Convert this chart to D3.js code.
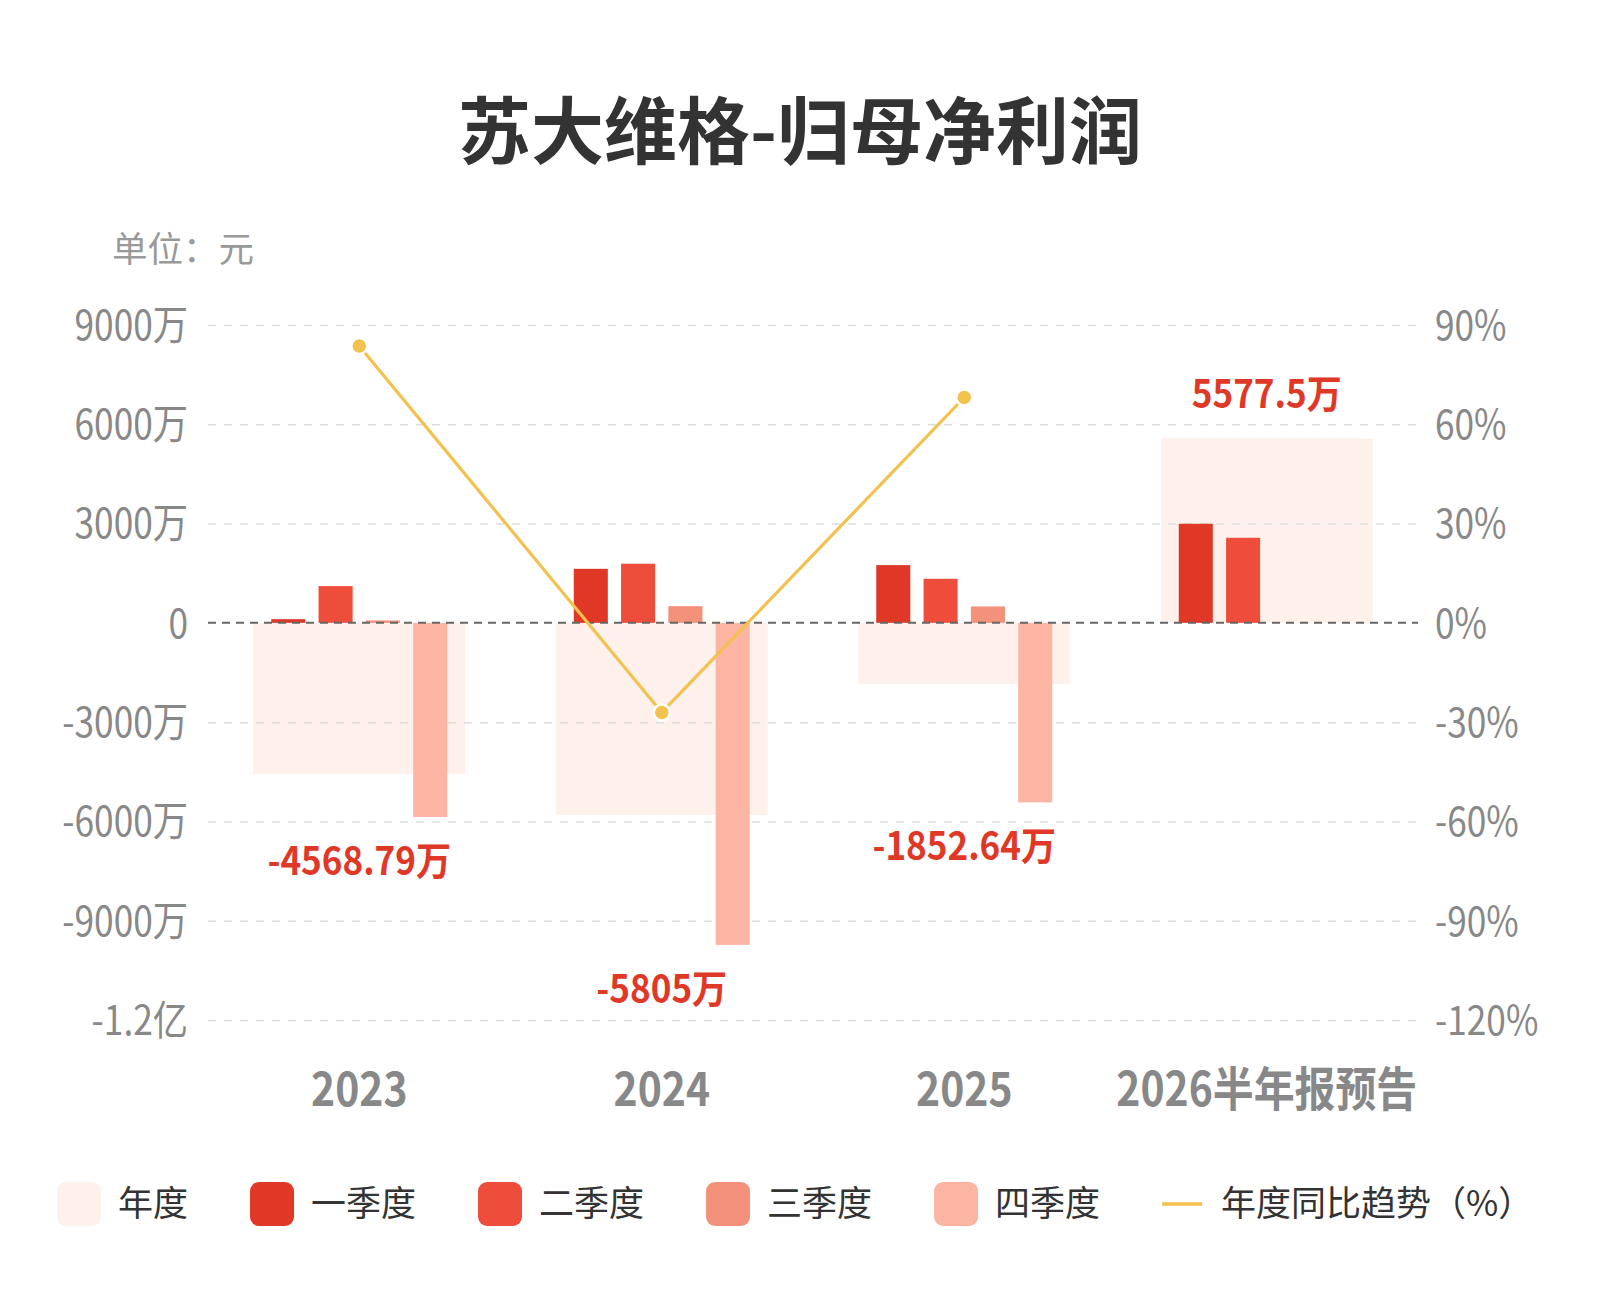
<!DOCTYPE html>
<html><head><meta charset="utf-8">
<script src="https://cdn.jsdelivr.net/npm/d3@7/dist/d3.min.js"></script>
<style>body{margin:0;background:#fff}</style>
</head><body><svg id="c" width="1600" height="1300"></svg>
<script>
const categories = ["2023","2024","2025","2026半年报预告"];
const annual = [-4568.79,-5805,-1852.64,5577.5];
const annualLabels = ["-4568.79万","-5805万","-1852.64万","5577.5万"];
const q1 = [112,1633,1745,2994];
const q2 = [1110,1787,1331,2570];
const q3 = [73,505,496,null];
const q4 = [-5866,-9730,-5425,null];
const yoy = [83.65,-27.06,68.09,null];
const leftTicks = [9000,6000,3000,0,-3000,-6000,-9000,-12000];
const leftTickLabels = ["9000万","6000万","3000万","0","-3000万","-6000万","-9000万","-1.2亿"];
const rightTicks = [90,60,30,0,-30,-60,-90,-120];
const rightTickLabels = ["90%","60%","30%","0%","-30%","-60%","-90%","-120%"];
const seriesNames = ["年度","一季度","二季度","三季度","四季度","年度同比趋势（%）"];
const colors = ["#FEF0EB","#E03826","#EE4D3C","#F4917A","#FCB4A3","#F2C14E"];

const CJK = "'Noto Sans CJK SC',sans-serif";
const svg = d3.select("#c");
const L = 208, R = 1418, T = 325, B = 1020;

const x = d3.scaleBand().domain(categories).range([L, R]).padding(0);
const y = d3.scaleLinear().domain([-12000, 9000]).range([B, T]);
const yR = d3.scaleLinear().domain([-120, 90]).range([B, T]);
const inner = d3.scaleBand().domain([0,1,2,3]).range([-88, 88]).paddingInner(0.28).paddingOuter(0);
const bw = x.bandwidth();
const cx = c => x(c) + bw / 2;

// title
svg.append("text").attr("x", 800).attr("y", 158).attr("text-anchor", "middle")
  .style("font-family", CJK).style("font-weight", "bold").style("font-size", "73px").style("fill", "#333")
  .text("苏大维格-归母净利润");
svg.append("text").attr("x", 112).attr("y", 262)
  .style("font-family", CJK).style("font-size", "35.5px").style("fill", "#999").text("单位：元");

// annual boxes
svg.append("g").selectAll("rect").data(categories).join("rect")
  .attr("x", c => x(c) + bw * 0.15).attr("width", bw * 0.70)
  .attr("y", (c, i) => Math.min(y(annual[i]), y(0)))
  .attr("height", (c, i) => Math.abs(y(annual[i]) - y(0)))
  .attr("fill", colors[0]);

// gridlines
const grid = svg.append("g").attr("transform", `translate(${L},0)`)
  .call(d3.axisLeft(y).tickValues(leftTicks.filter(v => v !== 0)).tickSize(-(R - L)).tickFormat(""));
grid.select(".domain").remove();
grid.selectAll("line").attr("stroke", "#ddd").attr("stroke-width", 1.5).attr("stroke-dasharray", "8,8");

// quarter bars
const quarters = [q1, q2, q3, q4];
quarters.forEach((arr, qi) => {
  svg.append("g").selectAll("rect").data(categories.map((c, i) => ({c, v: arr[i]})).filter(d => d.v != null)).join("rect")
    .attr("x", d => cx(d.c) + inner(qi)).attr("width", inner.bandwidth())
    .attr("y", d => Math.min(y(d.v), y(0)))
    .attr("height", d => Math.abs(y(d.v) - y(0)))
    .attr("fill", colors[qi + 1]);
});

// zero line
svg.append("line").attr("x1", L).attr("x2", R).attr("y1", y(0)).attr("y2", y(0))
  .attr("stroke", "#666").attr("stroke-width", 2).attr("stroke-dasharray", "8,6");

// left axis
const la = svg.append("g").attr("transform", `translate(${L - 20},0)`)
  .call(d3.axisLeft(y).tickValues(leftTicks).tickSize(0).tickPadding(0).tickFormat((d, i) => leftTickLabels[i]));
la.select(".domain").remove();
la.selectAll("text").attr("x", 0).attr("transform", "scale(0.86,1)")
  .style("font-family", CJK).style("font-size", "41px").style("fill", "#888").attr("dy", "0.35em");

// right axis
const ra = svg.append("g").attr("transform", `translate(${R + 17},0)`)
  .call(d3.axisRight(yR).tickValues(rightTicks).tickSize(0).tickPadding(0).tickFormat((d, i) => rightTickLabels[i]));
ra.select(".domain").remove();
ra.selectAll("text").attr("x", 0).attr("transform", "scale(0.86,1)")
  .style("font-family", CJK).style("font-size", "41px").style("fill", "#888").attr("dy", "0.35em");

// x axis
const xa = svg.append("g").attr("transform", `translate(0,1106)`)
  .call(d3.axisBottom(x).tickSize(0).tickPadding(0));
xa.select(".domain").remove();
xa.selectAll("text").attr("y", 0).attr("dy", 0).attr("transform", "scale(0.87,1)")
  .style("font-family", CJK).style("font-weight", "bold").style("font-size", "47px").style("fill", "#888");

// yoy line
const pts = categories.map((c, i) => ({c, v: yoy[i]})).filter(d => d.v != null);
svg.append("path").datum(pts)
  .attr("d", d3.line().x(d => cx(d.c)).y(d => yR(d.v)))
  .attr("fill", "none").attr("stroke", colors[5]).attr("stroke-width", 3.2);
svg.append("g").selectAll("circle").data(pts).join("circle")
  .attr("cx", d => cx(d.c)).attr("cy", d => yR(d.v)).attr("r", 8)
  .attr("fill", colors[5]).attr("stroke", "#fff").attr("stroke-width", 2.5);

// annual labels
svg.append("g").selectAll("text").data(categories).join("text")
  .attr("text-anchor", "middle")
  .attr("transform", (c, i) => {
    const vals = [annual[i], q1[i], q2[i], q3[i], q4[i]].filter(v => v != null);
    const ty = annual[i] < 0 ? y(d3.min(vals)) + 58 : y(d3.max(vals)) - 30;
    return `translate(${cx(c)},${ty}) scale(0.9,1)`;
  })
  .style("font-family", CJK).style("font-weight", "bold").style("font-size", "39px").style("fill", "#E03826")
  .text((c, i) => annualLabels[i]);

// legend
const lg = svg.append("g");
let lx = 57;
const ly = 1204;
seriesNames.forEach((n, i) => {
  if (i < 5) {
    lg.append("rect").attr("x", lx).attr("y", ly - 22).attr("width", 44).attr("height", 44).attr("rx", 9)
      .attr("fill", colors[i]);
    lx += 44 + 17;
  } else {
    lg.append("line").attr("x1", lx).attr("x2", lx + 40).attr("y1", ly).attr("y2", ly)
      .attr("stroke", colors[5]).attr("stroke-width", 3.5);
    lx += 40 + 19;
  }
  const t = lg.append("text").attr("x", lx).attr("y", ly).attr("dy", "0.35em")
    .style("font-family", CJK).style("font-size", "35px").style("fill", "#333").text(n);
  lx += t.node().getComputedTextLength() + 62;
});
</script></body></html>
